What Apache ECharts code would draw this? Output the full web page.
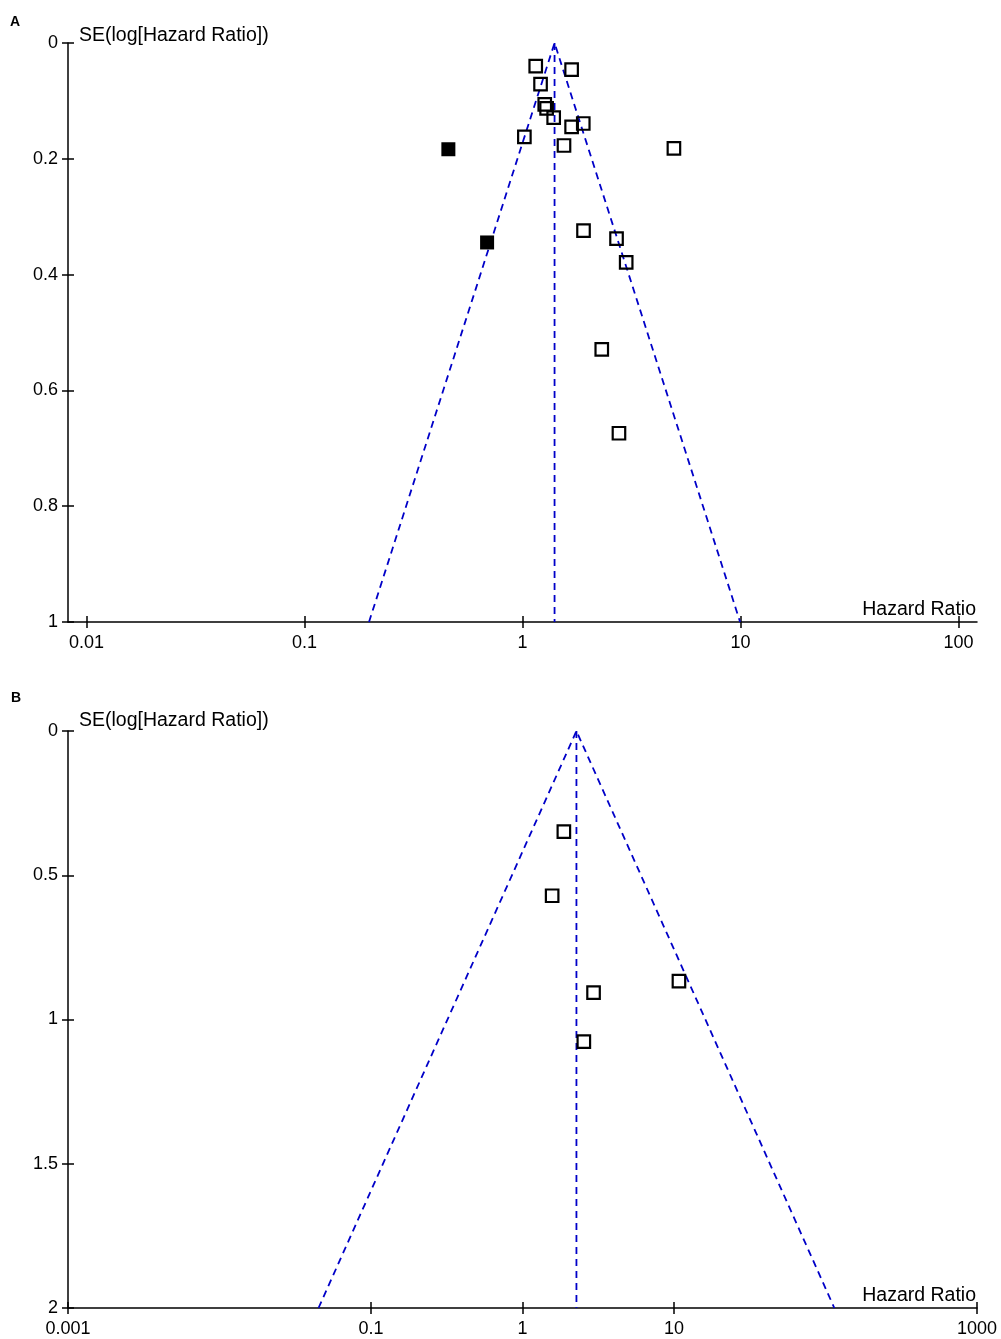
<!DOCTYPE html>
<html>
<head>
<meta charset="utf-8">
<script src="https://cdn.jsdelivr.net/npm/echarts@6/dist/echarts.min.js"></script>
<style>
html,body{margin:0;padding:0;background:#fff;}
#chart{width:1001px;height:1339px;}
</style>
</head>
<body>
<div id="chart"></div>
<script>
// Panel A data (hazard ratio, standard error of log HR)
var aHR = [1.15, 1.68, 1.21, 1.265, 1.29, 1.39, 1.68, 1.90, 1.02, 1.55, 4.95, 1.905, 2.70, 2.99, 2.31, 2.77];
var aSE = [0.040, 0.046, 0.071, 0.106, 0.113, 0.129, 0.145, 0.139, 0.162, 0.177, 0.182, 0.324, 0.338, 0.379, 0.529, 0.674];
// Panel A imputed (filled) studies
var aFillHR = [0.457, 0.688];
var aFillSE = [0.1835, 0.3445];
var aPooled = 1.403;
var aMaxSE = 1;
// Panel B data
var bHR = [1.875, 1.569, 10.78, 2.944, 2.54];
var bSE = [0.349, 0.571, 0.867, 0.907, 1.077];
var bPooled = 2.27;
var bMaxSE = 2;
// Tick labels
var aXTicks = [0.01, 0.1, 1, 10, 100];
var aXLabels = ['0.01', '0.1', '1', '10', '100'];
var bXTicks = [0.001, 0.1, 1, 10, 1000];
var bXLabels = ['0.001', '0.1', '1', '10', '1000'];

var FONT = 'Liberation Sans, Arial, sans-serif';
var lg = function (v) { return Math.log10(v); };

function pts(hr, se) { return hr.map(function (h, i) { return [lg(h), se[i]]; }); }
function funnel(p, maxSE) {
  return [[lg(p * Math.exp(-1.96 * maxSE)), maxSE], [lg(p), 0], [lg(p * Math.exp(1.96 * maxSE)), maxSE]];
}
function vline(p, maxSE) { return [[lg(p), 0], [lg(p), maxSE]]; }

function labelFmt(ticks, labels) {
  return function (v) {
    for (var i = 0; i < ticks.length; i++) {
      if (Math.abs(lg(ticks[i]) - v) < 1e-6) return labels[i];
    }
    return '';
  };
}

function xAxes(grid, min, max, ticks, labels) {
  var cv = ticks.map(lg);
  return [{
    gridIndex: grid, type: 'value', position: 'bottom', min: min, max: max,
    axisLine: { show: true, onZero: false, lineStyle: { color: '#000', width: 1.5 } },
    axisTick: { show: true, customValues: cv, length: 6, inside: false, lineStyle: { color: '#000', width: 1.5 } },
    axisLabel: { show: true, customValues: cv, formatter: labelFmt(ticks, labels), margin: 12,
      color: '#000', fontSize: 18, fontFamily: FONT, showMinLabel: true, showMaxLabel: true },
    splitLine: { show: false }
  }, {
    gridIndex: grid, type: 'value', position: 'bottom', offset: 0, min: min, max: max,
    axisLine: { show: false, onZero: false },
    axisTick: { show: true, customValues: cv, length: 6, inside: true, lineStyle: { color: '#000', width: 1.5 } },
    axisLabel: { show: false },
    splitLine: { show: false }
  }];
}
function yAxes(grid, max, interval) {
  return [{
    gridIndex: grid, type: 'value', position: 'left', inverse: true, min: 0, max: max, interval: interval,
    axisLine: { show: true, onZero: false, lineStyle: { color: '#000', width: 1.5 } },
    axisTick: { show: true, length: 6, inside: false, lineStyle: { color: '#000', width: 1.5 } },
    axisLabel: { show: true, margin: 10, color: '#000', fontSize: 18, fontFamily: FONT, showMinLabel: true, showMaxLabel: true },
    splitLine: { show: false }
  }, {
    gridIndex: grid, type: 'value', position: 'left', offset: 0, inverse: true, min: 0, max: max, interval: interval,
    axisLine: { show: false, onZero: false },
    axisTick: { show: true, length: 6, inside: true, lineStyle: { color: '#000', width: 1.5 } },
    axisLabel: { show: false },
    splitLine: { show: false }
  }];
}

var dashStyle = { color: '#0000c8', width: 1.8, type: [7, 5] };
var openItem = { color: 'rgba(0,0,0,0)', borderColor: '#000', borderWidth: 2.2, opacity: 1 };

var option = {
  animation: false,
  backgroundColor: '#fff',
  grid: [
    { left: 68, top: 43, width: 909, height: 579 },
    { left: 68, top: 731, width: 909, height: 577 }
  ],
  xAxis: [].concat(
    xAxes(0, -2.085, 2.085, aXTicks, aXLabels),
    xAxes(1, -3, 3, bXTicks, bXLabels)
  ),
  yAxis: [].concat(yAxes(0, aMaxSE, 0.2), yAxes(1, bMaxSE, 0.5)),
  series: [
    { type: 'line', xAxisIndex: 0, yAxisIndex: 0, data: funnel(aPooled, aMaxSE), symbol: 'none', lineStyle: dashStyle, z: 3 },
    { type: 'line', xAxisIndex: 0, yAxisIndex: 0, data: vline(aPooled, aMaxSE), symbol: 'none', lineStyle: dashStyle, z: 3 },
    { type: 'scatter', xAxisIndex: 0, yAxisIndex: 0, data: pts(aHR, aSE), symbol: 'rect', symbolSize: 12.5, itemStyle: openItem, z: 4 },
    { type: 'scatter', xAxisIndex: 0, yAxisIndex: 0, data: pts(aFillHR, aFillSE), symbol: 'rect', symbolSize: 14, itemStyle: { color: '#000', opacity: 1 }, z: 4 },
    { type: 'line', xAxisIndex: 2, yAxisIndex: 2, data: funnel(bPooled, bMaxSE), symbol: 'none', lineStyle: dashStyle, z: 3 },
    { type: 'line', xAxisIndex: 2, yAxisIndex: 2, data: vline(bPooled, bMaxSE), symbol: 'none', lineStyle: dashStyle, z: 3 },
    { type: 'scatter', xAxisIndex: 2, yAxisIndex: 2, data: pts(bHR, bSE), symbol: 'rect', symbolSize: 12.5, itemStyle: openItem, z: 4 }
  ],
  graphic: [
    { type: 'text', style: { x: 10, y: 22.5, text: 'A', font: 'bold 14px ' + FONT, fill: '#000', textVerticalAlign: 'middle' } },
    { type: 'text', style: { x: 79, y: 35.3, text: 'SE(log[Hazard Ratio])', font: '19.5px ' + FONT, fill: '#000', textVerticalAlign: 'middle' } },
    { type: 'text', style: { x: 976, y: 609.5, text: 'Hazard Ratio', font: '19.5px ' + FONT, fill: '#000', textAlign: 'right', textVerticalAlign: 'middle' } },
    { type: 'text', style: { x: 11, y: 698.5, text: 'B', font: 'bold 14px ' + FONT, fill: '#000', textVerticalAlign: 'middle' } },
    { type: 'text', style: { x: 79, y: 721, text: 'SE(log[Hazard Ratio])', font: '19.5px ' + FONT, fill: '#000', textVerticalAlign: 'middle' } },
    { type: 'text', style: { x: 976, y: 1296, text: 'Hazard Ratio', font: '19.5px ' + FONT, fill: '#000', textAlign: 'right', textVerticalAlign: 'middle' } }
  ]
};

var chart = echarts.init(document.getElementById('chart'), null, { renderer: 'canvas' });
chart.setOption(option);
</script>
</body>
</html>
